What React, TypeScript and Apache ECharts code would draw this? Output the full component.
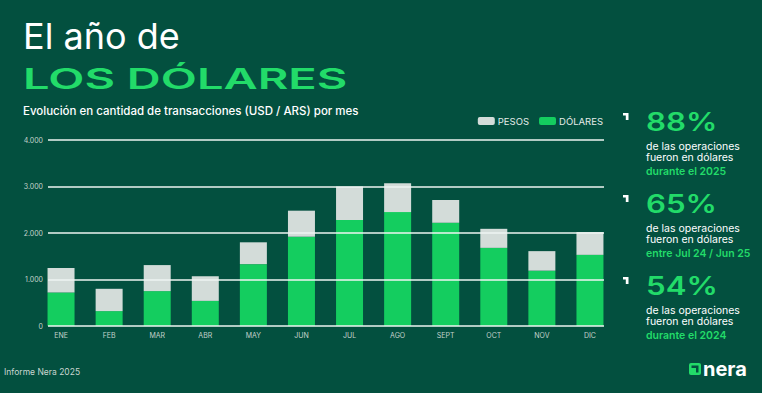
import React, { useEffect, useRef } from "react";
import * as echarts from "echarts";

const months = ["ENE", "FEB", "MAR", "ABR", "MAY", "JUN", "JUL", "AGO", "SEPT", "OCT", "NOV", "DIC"];
const dolares = [720, 320, 750, 540, 1330, 1920, 2280, 2450, 2220, 1680, 1190, 1530];
const pesos = [530, 480, 560, 530, 470, 560, 720, 620, 490, 410, 420, 490];
const yTicks = [0, 1000, 2000, 3000, 4000];

const stats = [
  { pct: "88%", l1: "de las operaciones", l2: "fueron en dólares", l3: "durante el 2025" },
  { pct: "65%", l1: "de las operaciones", l2: "fueron en dólares", l3: "entre Jul 24 / Jun 25" },
  { pct: "54%", l1: "de las operaciones", l2: "fueron en dólares", l3: "durante el 2024" },
];

const BG = "#03503f";
const GREEN = "#14cd5f";
const GRAY = "#d3dcd9";
const BRIGHT = "#22db69";
const FONT = "Inter, 'Noto Sans', sans-serif";

export default function App() {
  const ref = useRef<HTMLDivElement>(null);
  useEffect(() => {
    if (!ref.current) return;
    const chart = echarts.init(ref.current, null, { renderer: "svg" });
    const fmt = (v: number) => String(v).replace(/\B(?=(\d{3})+(?!\d))/g, ".");

    const graphics: any[] = [
      {
        type: "text", x: 23, y: 36,
        style: { text: "El año de", fill: "#ffffff", font: `400 36px ${FONT}`, verticalAlign: "middle" },
      },
      {
        type: "text", x: 23, y: 78, scaleX: 1.65,
        style: { text: "LOS DÓLARES", fill: BRIGHT, font: `600 28.5px ${FONT}`, verticalAlign: "middle" },
      },
      {
        type: "text", x: 23, y: 111,
        style: { text: "Evolución en cantidad de transacciones (USD / ARS) por mes", fill: "#ffffff", font: `500 11.5px ${FONT}`, verticalAlign: "middle" },
      },
      {
        type: "text", x: 4, y: 372,
        style: { text: "Informe Nera 2025", fill: "#c9d6d1", font: `400 8.5px ${FONT}`, verticalAlign: "middle" },
      },
      { type: "rect", shape: { x: 689, y: 363, width: 12, height: 12, r: 2 }, style: { fill: BRIGHT } },
      {
        type: "polygon",
        shape: { points: [[691.5, 365.5], [698.5, 365.5], [698.5, 372.5], [696, 372.5], [696, 368], [691.5, 368]] },
        style: { fill: BG },
      },
      {
        type: "text", x: 703, y: 369,
        style: { text: "nera", fill: "#ffffff", font: `700 20px ${FONT}`, verticalAlign: "middle" },
      },
    ];

    const centers = [122, 204, 286];
    stats.forEach((s, i) => {
      const c = centers[i];
      const top = c - 9;
      graphics.push({
        type: "polygon",
        shape: { points: [[623, top], [628.5, top], [628.5, top + 7], [625.8, top + 7], [625.8, top + 2.5], [623, top + 2.5]] },
        style: { fill: "#ffffff" },
      });
      graphics.push({
        type: "text", x: 646, y: c, scaleX: 1.25,
        style: { text: s.pct, fill: BRIGHT, font: `600 25px ${FONT}`, verticalAlign: "middle" },
      });
      graphics.push({
        type: "text", x: 646, y: c + 24,
        style: { text: s.l1, fill: "#ffffff", font: `400 10.5px ${FONT}`, verticalAlign: "middle" },
      });
      graphics.push({
        type: "text", x: 646, y: c + 35.5,
        style: { text: s.l2, fill: "#ffffff", font: `400 10.5px ${FONT}`, verticalAlign: "middle" },
      });
      graphics.push({
        type: "text", x: 646, y: c + 49,
        style: { text: s.l3, fill: BRIGHT, font: `600 10.5px ${FONT}`, verticalAlign: "middle" },
      });
    });

    chart.setOption({
      animation: false,
      backgroundColor: BG,
      textStyle: { fontFamily: FONT },
      legend: {
        data: ["PESOS", "DÓLARES"],
        right: 154,
        top: 111,
        itemWidth: 17,
        itemHeight: 8,
        itemGap: 10,
        icon: "roundRect",
        textStyle: { color: "#e4ece9", fontSize: 9.5, fontFamily: FONT, padding: [0, 0, 0, -2] },
      },
      grid: [
        { left: 37, right: 148, top: 140, bottom: 67 },
        { left: 48, right: 158, top: 140, bottom: 67 },
      ],
      xAxis: [
        {
          type: "category", gridIndex: 0, data: months,
          axisLine: { show: false }, axisTick: { show: false },
          axisLabel: { color: "#c3d2cc", fontSize: 7, margin: 6, fontFamily: FONT },
        },
        { type: "value", gridIndex: 1, show: false, min: 0, max: 1 },
      ],
      yAxis: [
        { type: "value", gridIndex: 0, min: 0, max: 4000, show: false, splitLine: { show: false } },
        {
          type: "value", gridIndex: 1, min: 0, max: 4000, interval: 1000, z: 5,
          axisLine: { show: false }, axisTick: { show: false },
          axisLabel: { color: "#c3d2cc", fontSize: 7, margin: 5, fontFamily: FONT, formatter: (v: number) => fmt(v), customValues: yTicks },
          splitLine: { show: true, lineStyle: { color: "#eef4f2", width: 1.6 } },
        },
      ],
      series: [
        {
          name: "DÓLARES", type: "bar", stack: "t", xAxisIndex: 0, yAxisIndex: 0,
          data: dolares, barWidth: 27, itemStyle: { color: GREEN },
        },
        {
          name: "PESOS", type: "bar", stack: "t", xAxisIndex: 0, yAxisIndex: 0,
          data: pesos, barWidth: 27, itemStyle: { color: GRAY },
        },
      ],
      graphic: graphics,
    });
    return () => chart.dispose();
  }, []);
  return <div ref={ref} style={{ width: 762, height: 393, position: "absolute", left: 0, top: 0 }} />;
}
